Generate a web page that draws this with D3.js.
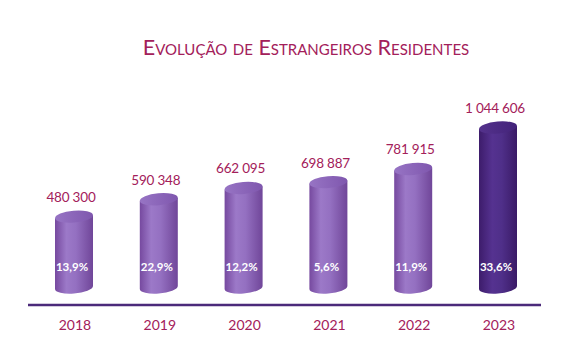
<!DOCTYPE html>
<html>
<head>
<meta charset="utf-8">
<script src="https://cdn.jsdelivr.net/npm/d3@7"></script>
<style>
  body { margin: 0; background: #fff; }
  svg { display: block; font-family: Lato, "Open Sans", sans-serif; }
</style>
</head>
<body>
<svg id="chart" width="567" height="363"></svg>
<script>
// dados
const anos = ['2018', '2019', '2020', '2021', '2022', '2023'];
const residentes = [480300, 590348, 662095, 698887, 781915, 1044606];
const variacao = [13.9, 22.9, 12.2, 5.6, 11.9, 33.6];

const svg = d3.select('#chart');
const corTexto = '#a3205a';

const pt = d3.formatLocale({ decimal: ',', thousands: ' ', grouping: [3], currency: ['', ''] });
const fmtNum = pt.format(',d');
const fmtPct = pt.format('.1f');

let x = d3.scalePoint().domain(anos).range([74, 498]);
let y = d3.scaleLinear().domain([0, d3.max(residentes)]).range([288, 123]);

const rx = 19, ry = 6, fundo = 289;

// gradientes
const defs = svg.append('defs');
function grad(id, stops) {
  let g = defs.append('linearGradient').attr('id', id)
    .attr('x1', '0%').attr('x2', '100%').attr('y1', '0%').attr('y2', '0%');
  stops.forEach(s => g.append('stop').attr('offset', s[0]).attr('stop-color', s[1]));
}
grad('lado', [['0%', '#76499f'], ['30%', '#9c79c8'], ['55%', '#9470c1'], ['100%', '#704699']]);
grad('ladoEsc', [['0%', '#3d1c6b'], ['35%', '#553290'], ['60%', '#4f2f89'], ['100%', '#3a1a66']]);
grad('topo', [['0%', '#9774c4'], ['100%', '#7f57ae']]);
grad('topoEsc', [['0%', '#54328c'], ['100%', '#43237a']]);

// titulo
svg.append('text')
  .attr('x', 306).attr('y', 55)
  .attr('text-anchor', 'middle')
  .attr('fill', corTexto)
  .style('font-size', '21.5px')
  .style('font-variant', 'small-caps')
  .text('Evolução de Estrangeiros Residentes');

// cilindros
let barras = svg.append('g').selectAll('g')
  .data(anos)
  .enter()
  .append('g')
  .attr('transform', d => 'translate(' + x(d) + ',0)');

barras.each(function(d, i) {
  let g = d3.select(this);
  let ultimo = i == anos.length - 1;
  let yt = y(residentes[i]) + ry;
  g.append('path')
    .attr('d', 'M' + (-rx) + ',' + yt + ' L' + (-rx) + ',' + fundo +
      ' A' + rx + ',' + ry + ' -5 0 0 ' + rx + ',' + (fundo - 3) +
      ' L' + rx + ',' + (yt - 3) + ' Z')
    .attr('fill', ultimo ? 'url(#ladoEsc)' : 'url(#lado)');
  g.append('ellipse')
    .attr('cx', 0).attr('cy', yt - 1.5)
    .attr('rx', rx).attr('ry', ry)
    .attr('transform', 'rotate(-5,0,' + (yt - 1.5) + ')')
    .attr('fill', ultimo ? 'url(#topoEsc)' : 'url(#topo)');
});

// valores
svg.append('g').selectAll('text')
  .data(anos)
  .enter()
  .append('text')
  .attr('x', d => x(d) - 3)
  .attr('y', (d, i) => y(residentes[i]) - 10)
  .attr('text-anchor', 'middle')
  .attr('fill', corTexto)
  .style('font-size', '13.5px')
  .style('letter-spacing', '-0.2px')
  .text((d, i) => fmtNum(residentes[i]));

// percentagens
svg.append('g').selectAll('text')
  .data(anos)
  .enter()
  .append('text')
  .attr('x', d => x(d) - 2)
  .attr('y', 271)
  .attr('text-anchor', 'middle')
  .attr('fill', '#fff')
  .style('font-size', '11.5px')
  .style('font-weight', 'bold')
  .text((d, i) => fmtPct(variacao[i]) + '%');

// linha base
svg.append('line')
  .attr('x1', 28).attr('x2', 541)
  .attr('y1', 305).attr('y2', 305)
  .attr('stroke', '#4b2a7a')
  .attr('stroke-width', 2.5);

// anos
svg.append('g').selectAll('text')
  .data(anos)
  .enter()
  .append('text')
  .attr('x', d => x(d) + 1)
  .attr('y', 330)
  .attr('text-anchor', 'middle')
  .attr('fill', corTexto)
  .style('font-size', '14px')
  .text(d => d);
</script>
</body>
</html>
